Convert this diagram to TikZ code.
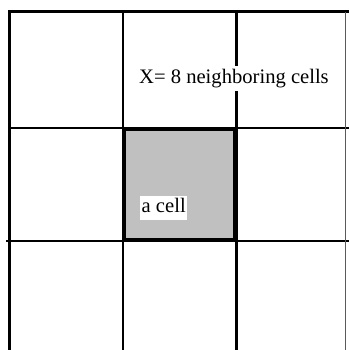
\documentclass[tikz,border=0pt]{standalone}
\usepackage{fontspec}
\setmainfont{Liberation Serif}
\definecolor{cellgray}{RGB}{192,192,192}
\definecolor{edgegray}{RGB}{90,90,90}
\tikzset{
  outerline/.style={line width=3.2bp, black},
  gridline/.style={line width=2.6bp, black},
  centercell/.style={line width=4.2bp, black},
  celltext/.style={fill=white, font=\fontsize{20.6bp}{24bp}\selectfont,
    inner xsep=1.5bp, inner ysep=2.5bp, text depth=5bp},
}
\begin{document}
\begin{tikzpicture}[x=1bp,y=-1bp]
  \useasboundingbox (0,0) rectangle (349,350);
  % outer frame (top and left)
  \draw[outerline] (8,11.5) -- (349,11.5);
  \draw[outerline] (9.5,10) -- (9.5,350);
  % inner grid lines
  \draw[gridline] (123,12) -- (123,350);
  \draw[gridline] (236.5,12) -- (236.5,350);
  \draw[gridline] (9.5,128) -- (349,128);
  \draw[gridline] (6,241) -- (349,241);
  % thin right edge
  \draw[line width=1bp, edgegray] (345.5,12) -- (345.5,350);
  % the centre cell
  \fill[cellgray] (122,127) rectangle (237,242);
  \draw[centercell] (124,129) rectangle (235,240);
  % labels
  \node[celltext, text height=15bp, anchor=base west] (neigh) at (137.5,83)
    {X= 8 neighboring cells};
  \node[celltext, text height=14bp, anchor=base west] (cell) at (140,212.5)
    {a cell};
\end{tikzpicture}
\end{document}
